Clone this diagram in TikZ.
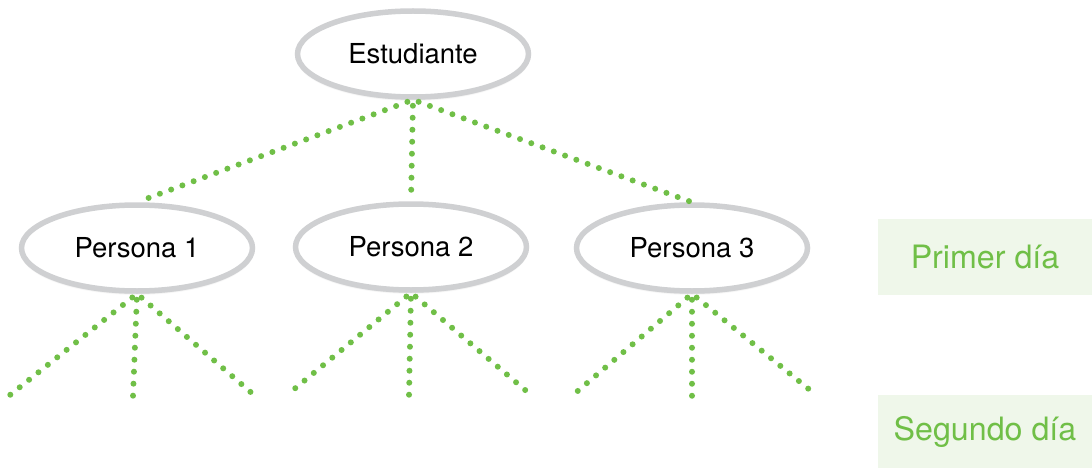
\documentclass[tikz,border=0pt]{standalone}
\usepackage{fontspec}
\setmainfont{TeX Gyre Heros}
\usetikzlibrary{shapes.geometric,shadows.blur}
\definecolor{leaf}{HTML}{70BF47}
\definecolor{rim}{HTML}{CFD0D2}
\definecolor{paleleaf}{HTML}{EFF7EA}
\tikzset{
  person/.style={ellipse, draw=rim, line width=5.5pt, fill=white,
    minimum width=231pt, minimum height=86pt, inner sep=0pt,
    font=\fontsize{27.5}{32}\selectfont,
    blur shadow={shadow xshift=0pt, shadow yshift=-2pt, shadow blur steps=6, shadow opacity=25}},
  dotline/.style={draw=leaf, line width=6pt, line cap=round,
    dash pattern=on 0pt off 12pt},
  daybox/.style={fill=paleleaf, minimum width=214pt, inner sep=0pt,
    text=leaf, font=\fontsize{32.2}{38}\selectfont}
}
\begin{document}
\begin{tikzpicture}[x=1pt,y=-1pt]
  \useasboundingbox (0,0) rectangle (1092,468);

  % day labels on the right
  \node[daybox, minimum height=76pt] (day1) at (985,257) {Primer día};
  \node[daybox, minimum height=73pt] (day2) at (985,431.5) {Segundo día};

  % free ends of the second-level branches
  \coordinate (a1) at (10,395);  \coordinate (a2) at (133,396); \coordinate (a3) at (254,395);
  \coordinate (b1) at (287,395); \coordinate (b2) at (409,396); \coordinate (b3) at (531,395);
  \coordinate (c1) at (573,395); \coordinate (c2) at (692,396); \coordinate (c3) at (816,395);

  % people
  \node[person] (est) at (413,54)  {Estudiante};
  \node[person] (p1)  at (137,248) {Persona 1};
  \node[person] (p2)  at (411,247) {Persona 2};
  \node[person] (p3)  at (692,248) {Persona 3};

  % first-level branches
  \draw[dotline, shorten <=6pt, shorten >=3pt] (est.south) -- (p1.north);
  \draw[dotline, shorten <=6pt, shorten >=1pt] (est.south) -- (p2.north);
  \draw[dotline, shorten <=6pt, shorten >=3pt] (est.south) -- (p3.north);

  % second-level branches
  \foreach \p/\e in {p1/a,p2/b,p3/c}{
    \foreach \k in {1,2,3}{
      \draw[dotline, shorten <=6pt] (\p.south) -- (\e\k);
    }
  }
\end{tikzpicture}
\end{document}
